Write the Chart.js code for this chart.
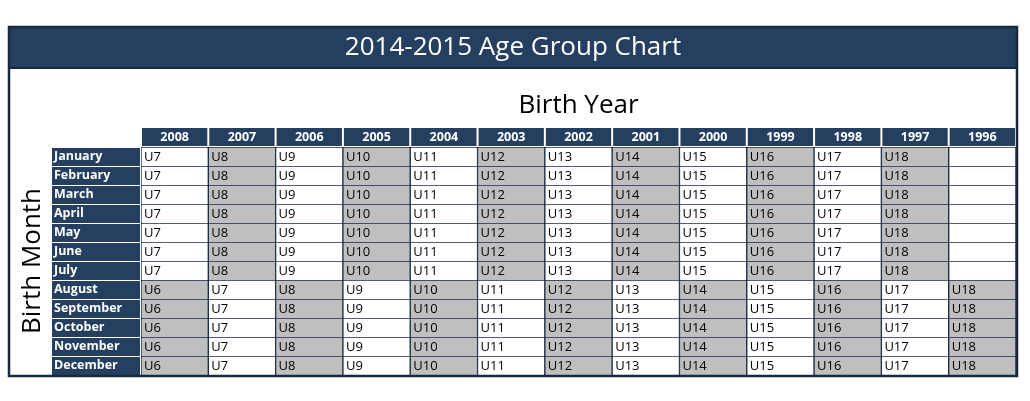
<!DOCTYPE html>
<html>
<head>
<meta charset="utf-8">
<title>2014-2015 Age Group Chart</title>
<script src="https://cdn.jsdelivr.net/npm/chart.js@4.4.1/dist/chart.umd.min.js"></script>
<style>
  html, body { margin: 0; padding: 0; background: #fff; }
  #wrap { width: 1030px; height: 401px; }
</style>
</head>
<body>
<div id="wrap"><canvas id="ageChart" width="1030" height="401"></canvas></div>
<script>
const birthYears = ['2008', '2007', '2006', '2005', '2004', '2003', '2002', '2001', '2000', '1999', '1998', '1997', '1996'];
const birthMonths = ['January', 'February', 'March', 'April', 'May', 'June', 'July',
  'August', 'September', 'October', 'November', 'December'];

// one row per birth month, one entry per birth year
const ageGroups = [
  ['U7', 'U8', 'U9', 'U10', 'U11', 'U12', 'U13', 'U14', 'U15', 'U16', 'U17', 'U18', ''],
  ['U7', 'U8', 'U9', 'U10', 'U11', 'U12', 'U13', 'U14', 'U15', 'U16', 'U17', 'U18', ''],
  ['U7', 'U8', 'U9', 'U10', 'U11', 'U12', 'U13', 'U14', 'U15', 'U16', 'U17', 'U18', ''],
  ['U7', 'U8', 'U9', 'U10', 'U11', 'U12', 'U13', 'U14', 'U15', 'U16', 'U17', 'U18', ''],
  ['U7', 'U8', 'U9', 'U10', 'U11', 'U12', 'U13', 'U14', 'U15', 'U16', 'U17', 'U18', ''],
  ['U7', 'U8', 'U9', 'U10', 'U11', 'U12', 'U13', 'U14', 'U15', 'U16', 'U17', 'U18', ''],
  ['U7', 'U8', 'U9', 'U10', 'U11', 'U12', 'U13', 'U14', 'U15', 'U16', 'U17', 'U18', ''],
  ['U6', 'U7', 'U8', 'U9', 'U10', 'U11', 'U12', 'U13', 'U14', 'U15', 'U16', 'U17', 'U18'],
  ['U6', 'U7', 'U8', 'U9', 'U10', 'U11', 'U12', 'U13', 'U14', 'U15', 'U16', 'U17', 'U18'],
  ['U6', 'U7', 'U8', 'U9', 'U10', 'U11', 'U12', 'U13', 'U14', 'U15', 'U16', 'U17', 'U18'],
  ['U6', 'U7', 'U8', 'U9', 'U10', 'U11', 'U12', 'U13', 'U14', 'U15', 'U16', 'U17', 'U18'],
  ['U6', 'U7', 'U8', 'U9', 'U10', 'U11', 'U12', 'U13', 'U14', 'U15', 'U16', 'U17', 'U18']
];

const NAVY = '#243f60';
const LINE = '#1a2a3e';
const GRAY = '#bfbfbf';

Chart.defaults.font.family = "'Open Sans', sans-serif";

// even age groups are shaded grey
function cellColor(ctx) {
  const v = ageGroups[ctx.datasetIndex][ctx.dataIndex];
  if (!v) return '#ffffff';
  return parseInt(v.slice(1), 10) % 2 === 0 ? GRAY : '#ffffff';
}

const datasets = birthMonths.map((month, r) => ({
  label: month,
  data: birthYears.map(() => [r, r + 1]),
  backgroundColor: cellColor,
  borderColor: LINE,
  borderWidth: { top: 1, bottom: 0, left: 1, right: 1 },
  borderSkipped: false,
  barPercentage: 1,
  categoryPercentage: 1,
  grouped: false
}));

// backgrounds: title bar, column header cells, row header cells
const backgroundPlugin = {
  id: 'tableBackground',
  beforeDraw(chart) {
    const { ctx, chartArea, scales } = chart;
    ctx.save();
    ctx.fillStyle = '#ffffff';
    ctx.fillRect(0, 0, chart.width, chart.height);

    ctx.fillStyle = NAVY;
    ctx.fillRect(10, 28, chartArea.right - 10, 40);
    ctx.fillStyle = LINE;
    ctx.fillRect(10, 67, chartArea.right - 10, 2);

    const colW = scales.x.getPixelForValue(1) - scales.x.getPixelForValue(0);
    ctx.fillStyle = NAVY;
    birthYears.forEach((y, i) => {
      const cx = scales.x.getPixelForValue(i);
      ctx.fillRect(cx - colW / 2 + 1, chartArea.top - 19, colW - 2, 18);
    });

    birthMonths.forEach((m, i) => {
      const y0 = scales.y.getPixelForValue(i);
      const y1 = scales.y.getPixelForValue(i + 1);
      ctx.fillRect(52, y0 + 1, chartArea.left - 53, y1 - y0 - 1);
    });
    ctx.restore();
  },
  afterDatasetsDraw(chart) {
    const { ctx } = chart;
    ctx.save();
    ctx.font = "13px 'Open Sans', sans-serif";
    ctx.fillStyle = '#000000';
    ctx.textBaseline = 'middle';
    ctx.textAlign = 'left';
    chart.data.datasets.forEach((ds, r) => {
      chart.getDatasetMeta(r).data.forEach((bar, c) => {
        const p = bar.getProps(['x', 'y', 'base', 'width'], true);
        const text = ageGroups[r][c];
        if (text) ctx.fillText(text, p.x - p.width / 2 + 3, (p.y + p.base) / 2 + 1);
      });
    });
    ctx.restore();
  },
  afterDraw(chart) {
    const { ctx, chartArea } = chart;
    ctx.save();
    ctx.strokeStyle = LINE;
    ctx.lineWidth = 2.5;
    ctx.strokeRect(9, 27, chartArea.right - 8, chartArea.bottom - 26);
    ctx.restore();
  }
};

new Chart(document.getElementById('ageChart'), {
  type: 'bar',
  data: { labels: birthYears, datasets: datasets },
  plugins: [backgroundPlugin],
  options: {
    responsive: false,
    animation: false,
    events: [],
    layout: { padding: { left: 10, right: 14, top: 28, bottom: 26 } },
    plugins: {
      legend: { display: false },
      tooltip: { enabled: false },
      title: {
        display: true,
        text: '2014-2015 Age Group Chart',
        color: '#ffffff',
        font: { size: 26, weight: 'normal', lineHeight: 40 / 26 },
        padding: 0
      }
    },
    scales: {
      x: {
        position: 'top',
        grid: { display: false, drawTicks: false },
        border: { display: false },
        ticks: { color: '#ffffff', font: { size: 12.5, weight: 'bold' }, padding: 2, maxRotation: 0 },
        title: {
          display: true,
          text: 'Birth Year',
          color: '#000000',
          font: { size: 26 },
          padding: { top: 22, bottom: 0 }
        },
        afterFit(scale) { scale.height = 79; }
      },
      y: {
        type: 'linear',
        reverse: true,
        min: 0,
        max: birthMonths.length,
        grid: { display: false, drawTicks: false },
        border: { display: false },
        afterBuildTicks(scale) {
          scale.ticks = birthMonths.map((m, i) => ({ value: i + 0.5 }));
        },
        ticks: {
          mirror: true,
          padding: -87,
          crossAlign: 'near',
          color: '#ffffff',
          font: { size: 12.5, weight: 'bold' },
          callback: (v) => birthMonths[Math.floor(v)]
        },
        title: {
          display: true,
          text: 'Birth Month',
          color: '#000000',
          font: { size: 26 },
          padding: { top: 7, bottom: 0 }
        },
        afterFit(scale) { scale.width = 131; }
      }
    }
  }
});
</script>
</body>
</html>
